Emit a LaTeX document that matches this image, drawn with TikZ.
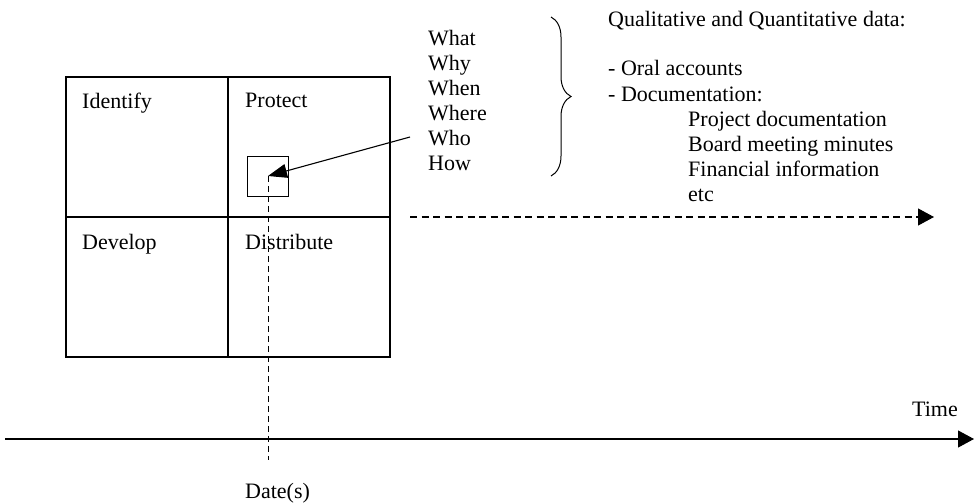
\documentclass[tikz,border=0pt]{standalone}
\usepackage{fontspec}
\setmainfont{Liberation Serif}
\usetikzlibrary{arrows.meta,positioning,decorations.pathreplacing}

\begin{document}
\begin{tikzpicture}[x=1pt, y=-1pt,
			quad/.style={draw, rectangle, line width=1.1pt, minimum width=162pt, minimum height=140pt, inner sep=0pt, outer sep=0pt},
			sqBox/.style={draw, rectangle, line width=1pt, minimum width=41pt, minimum height=40pt, inner sep=0pt, outer sep=0pt},
			title/.style={font=\fontsize{22}{25}\selectfont, inner sep=0pt},
			arrowStrong/.style={line width=1.1pt, -{Triangle[length=16pt,width=17pt]}},
			arrowDashed/.style={arrowStrong, dash pattern=on 7pt off 4.5pt},
			dashLine/.style={line width=1pt, dash pattern=on 6pt off 4pt},
			]
			\useasboundingbox (0,0) rectangle (977,503);
			
			% quadrants
			\node[quad] (identifyBox) at (147,147) {};
			\node[quad, right=0pt of identifyBox] (protectBox) {};
			\node[quad, below=0pt of identifyBox] (developBox) {};
			\node[quad, below=0pt of protectBox] (distributeBox) {};
			
			\node[title, below right=16pt and 16pt of identifyBox.north west] (identifyText) {Identify};
			\node[title, below right=16pt and 17pt of protectBox.north west] (protectText) {Protect};
			\node[title, below right=17pt and 16pt of developBox.north west] (developText) {Develop};
			\node[title, below right=17pt and 17pt of distributeBox.north west] (distributeText) {Distribute};
			
			\node[sqBox] (smallBox) at (268,176) {};
			
			% questions
			\foreach \q [count=\i] in {What,Why,When,Where,Who,How}
			{\node[title, anchor=base west](q\i) at (428, {46+(\i-1)*24.8}) {\q};}
			
			% brace and data
			\coordinate (braceTop) at (551,17);
			\coordinate (braceBot) at (551,176);
			\draw[decorate, decoration={brace, amplitude=20pt}, line width=1pt] (braceTop) -- (braceBot);
			
			\node[title, anchor=base west] (dataTitle) at (608,27) {Qualitative and Quantitative data:};
			\node[title, anchor=base west] (oralText) at (608,76) {- Oral accounts};
			\node[title, anchor=base west] (docText) at (608,101) {- Documentation:};
			\node[title, anchor=base west] (projectText) at (688,126) {Project documentation};
			\node[title, anchor=base west] (boardText) at (688,151) {Board meeting minutes};
			\node[title, anchor=base west] (financeText) at (688,176) {Financial information};
			\node[title, anchor=base west] (etcText) at (688,201) {etc};
			
			% time axis
			\coordinate (timeStart) at (5,439);
			\coordinate (timeEnd) at (974,439);
			\node[title, anchor=base west] (timeText) at (912,416) {Time};
			
			\coordinate (dateEnd) at (268,460);
			\node[title, anchor=base west] (dateText) at (245,498) {Date(s)};
			
			\coordinate (askStart) at (410,137);
			\coordinate (dataStart) at (410,217);
			\coordinate (dataEnd) at (934,217);
			
			% Arrow
			\draw [arrowStrong] (timeStart) -- (timeEnd);
			\draw [dashLine] (smallBox.center) -- (dateEnd);
			\draw [line width=1.1pt, -{Triangle[length=19pt,width=14pt]}] (askStart) -- (smallBox.center);
			\draw [arrowDashed] (dataStart) -- (dataEnd);
			
		\end{tikzpicture}
\end{document}
